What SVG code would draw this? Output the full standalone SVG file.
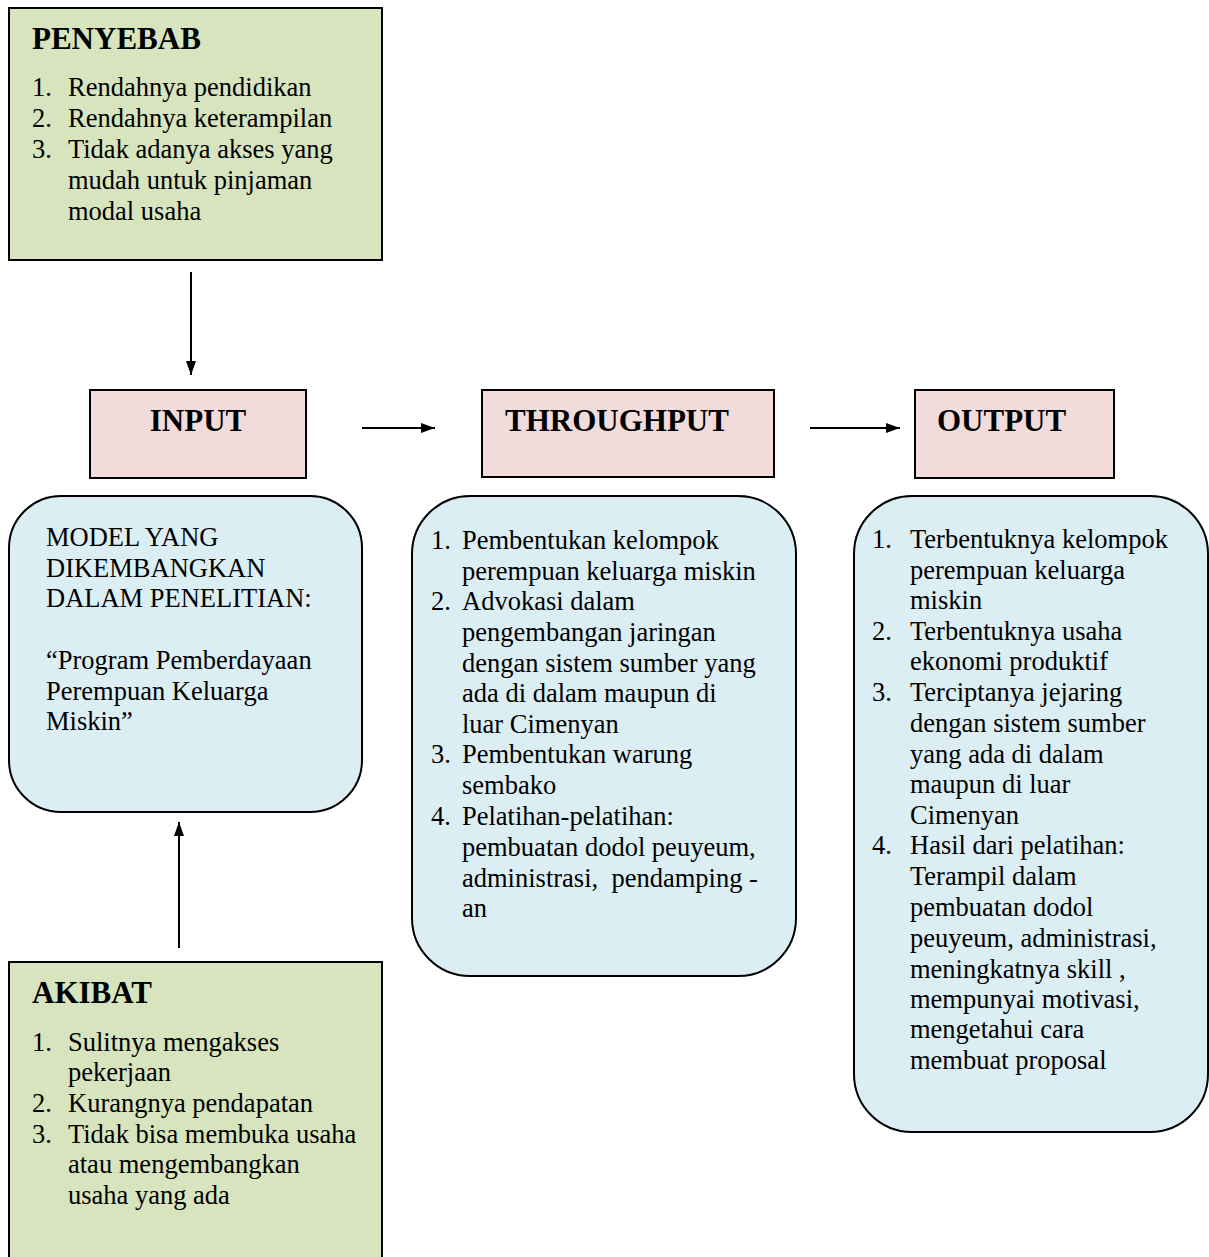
<svg xmlns="http://www.w3.org/2000/svg" width="1209" height="1257" viewBox="0 0 1209 1257">
<style>
.g{fill:#d7e4bd;stroke:#000;stroke-width:2}
.p{fill:#f2dcdb;stroke:#000;stroke-width:2}
.b{fill:#dbeef4;stroke:#000;stroke-width:2}
text{font-family:"Liberation Serif","Times New Roman",serif;fill:#000}
.t{font-size:31px;font-weight:bold}
.x{font-size:26.5px}
.c{stroke:#000;stroke-width:2;fill:none}
</style>
<defs>
<marker id="ah" viewBox="0 0 10 10" refX="10" refY="5" markerWidth="7" markerHeight="7" markerUnits="userSpaceOnUse" orient="auto">
<path d="M0,0 L10,5 L0,10 z" fill="#000"/>
</marker>
<marker id="ah2" viewBox="0 0 14 10" refX="14" refY="5" markerWidth="14" markerHeight="10" markerUnits="userSpaceOnUse" orient="auto">
<path d="M0,0 L14,5 L0,10 z" fill="#000"/>
</marker>
</defs>
<rect width="1209" height="1257" fill="#fff"/>

<g id="penyebab">
<rect class="g" x="9" y="8" width="373" height="252"/>
<text class="t" x="32" y="49">PENYEBAB</text>
<text class="x" x="32" y="96">1.</text><text class="x" x="68" y="96">Rendahnya pendidikan</text>
<text class="x" x="32" y="127">2.</text><text class="x" x="68" y="127">Rendahnya keterampilan</text>
<text class="x" x="32" y="158">3.</text><text class="x" x="68" y="158">Tidak adanya akses yang</text>
<text class="x" x="68" y="189">mudah untuk pinjaman</text>
<text class="x" x="68" y="220">modal usaha</text>
</g>

<g id="input">
<rect class="p" x="90" y="390" width="216" height="88"/>
<text class="t" x="198" y="431" text-anchor="middle">INPUT</text>
</g>

<g id="throughput">
<rect class="p" x="482" y="390" width="292" height="87"/>
<text class="t" x="505" y="431">THROUGHPUT</text>
</g>

<g id="output">
<rect class="p" x="915" y="390" width="199" height="88"/>
<text class="t" x="937" y="431">OUTPUT</text>
</g>

<g id="model">
<rect class="b" x="9" y="496" width="353" height="316" rx="52" ry="52"/>
<text class="x" x="46" y="546">MODEL YANG</text>
<text class="x" x="46" y="577">DIKEMBANGKAN</text>
<text class="x" x="46" y="607">DALAM PENELITIAN:</text>
<text class="x" x="46" y="669">“Program Pemberdayaan</text>
<text class="x" x="46" y="700">Perempuan Keluarga</text>
<text class="x" x="46" y="730">Miskin”</text>
</g>

<g id="throughput-list">
<rect class="b" x="412" y="496" width="384" height="480" rx="58" ry="58"/>
<text class="x" x="431" y="549">1.</text><text class="x" x="462" y="549">Pembentukan kelompok</text>
<text class="x" x="462" y="580">perempuan keluarga miskin</text>
<text class="x" x="431" y="610">2.</text><text class="x" x="462" y="610">Advokasi dalam</text>
<text class="x" x="462" y="641">pengembangan jaringan</text>
<text class="x" x="462" y="672">dengan sistem sumber yang</text>
<text class="x" x="462" y="702">ada di dalam maupun di</text>
<text class="x" x="462" y="733">luar Cimenyan</text>
<text class="x" x="431" y="763">3.</text><text class="x" x="462" y="763">Pembentukan warung</text>
<text class="x" x="462" y="794">sembako</text>
<text class="x" x="431" y="825">4.</text><text class="x" x="462" y="825">Pelatihan-pelatihan:</text>
<text class="x" x="462" y="856">pembuatan dodol peuyeum,</text>
<text class="x" x="462" y="887" xml:space="preserve">administrasi,  pendamping -</text>
<text class="x" x="462" y="917">an</text>
</g>

<g id="output-list">
<rect class="b" x="854" y="496" width="354" height="636" rx="58" ry="58"/>
<text class="x" x="872" y="548">1.</text><text class="x" x="910" y="548">Terbentuknya kelompok</text>
<text class="x" x="910" y="579">perempuan keluarga</text>
<text class="x" x="910" y="609">miskin</text>
<text class="x" x="872" y="640">2.</text><text class="x" x="910" y="640">Terbentuknya usaha</text>
<text class="x" x="910" y="670">ekonomi produktif</text>
<text class="x" x="872" y="701">3.</text><text class="x" x="910" y="701">Terciptanya jejaring</text>
<text class="x" x="910" y="732">dengan sistem sumber</text>
<text class="x" x="910" y="763">yang ada di dalam</text>
<text class="x" x="910" y="793">maupun di luar</text>
<text class="x" x="910" y="824">Cimenyan</text>
<text class="x" x="872" y="854">4.</text><text class="x" x="910" y="854">Hasil dari pelatihan:</text>
<text class="x" x="910" y="885">Terampil dalam</text>
<text class="x" x="910" y="916">pembuatan dodol</text>
<text class="x" x="910" y="947">peuyeum, administrasi,</text>
<text class="x" x="910" y="978">meningkatnya skill ,</text>
<text class="x" x="910" y="1008">mempunyai motivasi,</text>
<text class="x" x="910" y="1038">mengetahui cara</text>
<text class="x" x="910" y="1069">membuat proposal</text>
</g>

<g id="akibat">
<rect class="g" x="9" y="962" width="373" height="310"/>
<text class="t" x="32" y="1003">AKIBAT</text>
<text class="x" x="32" y="1051">1.</text><text class="x" x="68" y="1051">Sulitnya mengakses</text>
<text class="x" x="68" y="1081">pekerjaan</text>
<text class="x" x="32" y="1112">2.</text><text class="x" x="68" y="1112">Kurangnya pendapatan</text>
<text class="x" x="32" y="1143">3.</text><text class="x" x="68" y="1143">Tidak bisa membuka usaha</text>
<text class="x" x="68" y="1173">atau mengembangkan</text>
<text class="x" x="68" y="1204">usaha yang ada</text>
</g>

<g id="connectors">
<line class="c" x1="191" y1="272" x2="191" y2="375" marker-end="url(#ah2)"/>
<line class="c" x1="362" y1="428" x2="435" y2="428" marker-end="url(#ah2)"/>
<line class="c" x1="810" y1="428" x2="900" y2="428" marker-end="url(#ah2)"/>
<line class="c" x1="179" y1="948" x2="179" y2="822" marker-end="url(#ah2)"/>
</g>
</svg>
